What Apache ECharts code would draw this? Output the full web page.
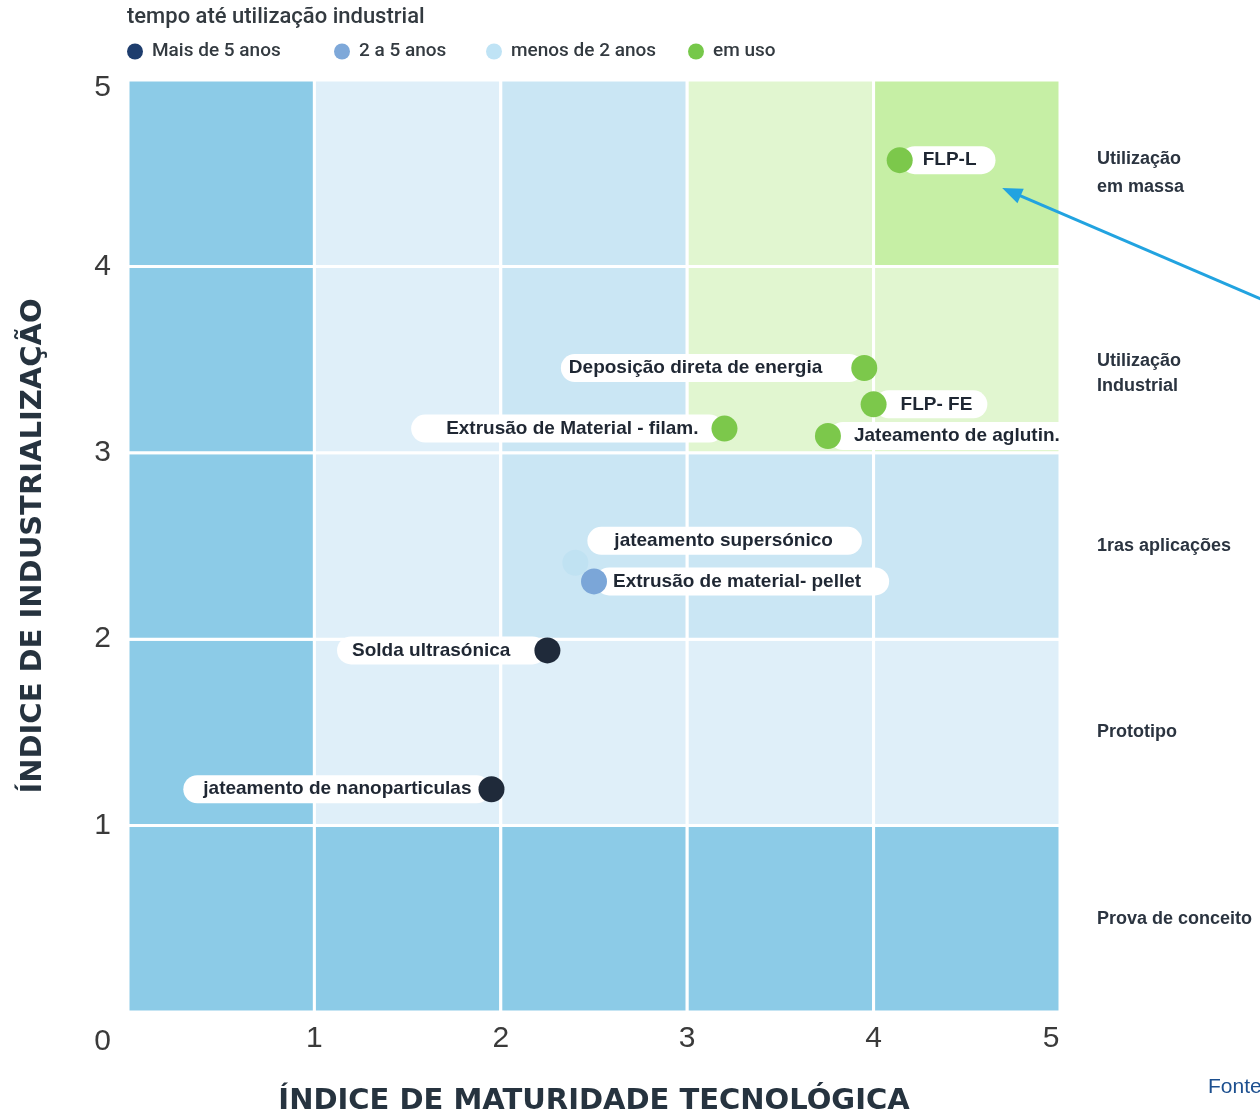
<!DOCTYPE html>
<html><head><meta charset="utf-8">
<script src="https://cdn.jsdelivr.net/npm/echarts@6/dist/echarts.min.js"></script>
<style>html,body{margin:0;padding:0;background:#fff}#c{width:1260px;height:1116px}</style>
</head><body><div id="c"></div>
<script>
// ---------------- DATA ----------------
const legendTitle = 'tempo até utilização industrial';
const groupNames = ['Mais de 5 anos', '2 a 5 anos', 'menos de 2 anos', 'em uso'];
const stageLabels = ['Prova de conceito', 'Prototipo', '1ras aplicações', 'Utilização\nIndustrial', 'Utilização\nem massa'];
const xTicks = [0, 1, 2, 3, 4, 5];
const yTicks = [0, 1, 2, 3, 4, 5];
const xAxisName = 'ÍNDICE DE MATURIDADE TECNOLÓGICA';
const yAxisName = 'ÍNDICE DE INDUSTRIALIZAÇÃO';
const techNames = ['FLP-L', 'Deposição direta de energia', 'FLP- FE', 'Extrusão de Material - filam.', 'Jateamento de aglutin.', 'jateamento supersónico', 'Extrusão de material- pellet', 'Solda ultrasónica', 'jateamento de nanoparticulas'];
const techX = [4.14, 3.95, 4.00, 3.20, 3.755, 2.40, 2.50, 2.25, 1.95];
const techY = [4.57, 3.455, 3.26, 3.13, 3.09, 2.41, 2.31, 1.94, 1.195];
const techGroup = [3, 3, 3, 3, 3, 2, 1, 0, 0];
// zone grid: rows bottom->top (y 0..5), columns left->right (x 0..5)
// 0 dark blue, 1 light blue, 2 medium blue, 3 light green, 4 green
const zoneRows = [
  [0, 0, 0, 0, 0],
  [0, 1, 1, 1, 1],
  [0, 1, 2, 2, 2],
  [0, 1, 2, 3, 3],
  [0, 1, 2, 3, 4]
];
const arrowFrom = [6.23, 3.76];
const arrowTo = [4.69, 4.42];
const sourceNote = 'Fonte';

// ---------------- STYLE ----------------
const zoneColors = ['#8ccbe7', '#dfeff9', '#cae6f4', '#e1f6d0', '#c6efa5'];
const groupColors = ['#1f2a3a', '#7ba6d8', '#c0e2f2', '#7cc84b'];
const legendColors = ['#1e3d6d', '#7ea8d9', '#bfe3f5', '#76c84a'];
const legendLefts = [127, 334, 486, 688];
// side (or [px, py] relative to the marker), padLeft, padRight
const labelLayoutMap = {
  'FLP-L': ['right', 22, 19],
  'Deposição direta de energia': ['left', 8, 41],
  'FLP- FE': ['right', 26, 15],
  'Extrusão de Material - filam.': ['left', 35, 25],
  'Jateamento de aglutin.': ['right', 25, 15],
  'jateamento supersónico': [[13, -21], 27, 29],
  'Extrusão de material- pellet': ['right', 18, 28],
  'Solda ultrasónica': ['left', 15, 36],
  'jateamento de nanoparticulas': ['left', 20, 19]
};
const FONT = '"Liberation Sans", Arial, sans-serif';

const chart = echarts.init(document.getElementById('c'), null, { renderer: 'canvas' });

const cells = [];
zoneRows.forEach((row, r) => row.forEach((k, c) => cells.push([c, r, k])));

const pointSeries = groupNames.map((g, gi) => ({
  name: g,
  type: 'scatter',
  z: 3,
  symbolSize: 26,
  itemStyle: { color: groupColors[gi], opacity: 1 },
  emphasis: { disabled: true },
  data: techNames.map((n, i) => ({ name: n, value: [techX[i], techY[i]], g: techGroup[i] }))
    .filter(d => d.g === gi).map(d => ({ name: d.name, value: d.value }))
}));

const labelSeries = {
  name: 'labels',
  type: 'scatter',
  z: 2,
  symbolSize: 2,
  itemStyle: { color: 'rgba(0,0,0,0)' },
  emphasis: { disabled: true },
  labelLayout: { hideOverlap: false },
  data: techNames.map((n, i) => {
    const L = labelLayoutMap[n];
    const lab = {
      show: true,
      formatter: '{b}',
      position: L[0],
      distance: 0,
      backgroundColor: '#ffffff',
      borderRadius: 14,
      padding: [4, L[2], 4, L[1]],
      color: '#1f2733',
      opacity: 1,
      fontFamily: FONT,
      fontWeight: 'bold',
      fontSize: 19,
      lineHeight: 20
    };
    if (Array.isArray(L[0])) { lab.align = 'left'; lab.verticalAlign = 'middle'; }
    return { name: n, value: [techX[i], techY[i]], label: lab };
  })
};

const zoneSeries = {
  name: 'zones',
  type: 'custom',
  z: 1,
  silent: true,
  xAxisIndex: 0,
  yAxisIndex: 0,
  encode: { x: 0, y: 1 },
  data: cells,
  renderItem: function (params, api) {
    const c = api.value(0), r = api.value(1), k = api.value(2);
    const p0 = api.coord([c, r + 1]);
    const p1 = api.coord([c + 1, r]);
    return {
      type: 'rect',
      shape: { x: p0[0], y: p0[1], width: p1[0] - p0[0], height: p1[1] - p0[1] },
      style: { fill: zoneColors[k], stroke: '#ffffff', lineWidth: 3 }
    };
  }
};

const option = {
  backgroundColor: '#ffffff',
  animation: false,
  title: [
    { text: legendTitle, left: 127, top: 6, padding: 0,
      textStyle: { fontFamily: 'Roboto, sans-serif', fontSize: 22, fontWeight: 500, color: '#333a40' } },
    { text: sourceNote, left: 1208, top: 1077, padding: 0,
      textStyle: { fontFamily: FONT, fontSize: 21, fontWeight: 'normal', color: '#1c4f8f' } }
  ],
  legend: groupNames.map((g, gi) => ({
    left: legendLefts[gi],
    top: 42,
    padding: 0,
    icon: 'circle',
    itemWidth: 24,
    itemHeight: 16,
    selectedMode: false,
    data: [{ name: g, itemStyle: { color: legendColors[gi] } }],
    textStyle: { fontFamily: 'Roboto, sans-serif', fontSize: 19, fontWeight: 500, color: '#333a40', lineHeight: 18 }
  })),
  grid: { left: 128, right: 200, top: 80, bottom: 104, containLabel: false, outerBoundsMode: 'none' },
  xAxis: {
    type: 'value', min: xTicks[0], max: xTicks[xTicks.length - 1], interval: 1,
    name: xAxisName, nameLocation: 'middle', nameGap: 75,
    nameTextStyle: { fontFamily: '"DejaVu Sans", sans-serif', fontWeight: 'bold', fontSize: 29, color: '#26333f' },
    axisLine: { show: false }, axisTick: { show: false }, splitLine: { show: false },
    axisLabel: {
      margin: 12, fontFamily: FONT, fontSize: 30, color: '#3a3a3a',
      formatter: v => (v === xTicks[0] ? '' : (v === xTicks[xTicks.length - 1] ? '{e|' + v + '}' : String(v))),
      rich: { e: { fontFamily: FONT, fontSize: 30, color: '#3a3a3a', padding: [0, 18, 0, 0] } }
    }
  },
  yAxis: [
    {
      type: 'value', min: yTicks[0], max: yTicks[yTicks.length - 1], interval: 1,
      name: yAxisName, nameLocation: 'middle', nameGap: 80,
      nameTextStyle: { fontFamily: '"DejaVu Sans", sans-serif', fontWeight: 'bold', fontSize: 29, color: '#26333f' },
      axisLine: { show: false }, axisTick: { show: false }, splitLine: { show: false },
      axisLabel: {
        margin: 17, fontFamily: FONT, fontSize: 30, color: '#3a3a3a',
        formatter: v => (v === yTicks[0] ? '{z|' + v + '}' : (v === yTicks[yTicks.length - 1] ? '{t|' + v + '}' : String(v))),
        rich: {
          z: { fontFamily: FONT, fontSize: 30, color: '#3a3a3a', padding: [60, 0, 0, 0] },
          t: { fontFamily: FONT, fontSize: 30, color: '#3a3a3a', padding: [16, 0, 0, 0] }
        }
      }
    },
    {
      type: 'category', position: 'right', data: stageLabels, boundaryGap: true,
      axisLine: { show: false }, axisTick: { show: false }, splitLine: { show: false },
      axisLabel: {
        margin: 37, align: 'left', fontFamily: FONT, fontSize: 18, fontWeight: 'bold',
        lineHeight: 28, color: '#2b3440',
        formatter: v => (v.indexOf('Industrial') >= 0 ? '{d|' + v.split('\n').join('}\n{d|') + '}' : v),
        rich: {
          d: { fontFamily: FONT, fontSize: 18, fontWeight: 'bold', color: '#2b3440', lineHeight: 25, padding: [27, 0, 0, 0] }
        }
      }
    }
  ],
  series: [zoneSeries, labelSeries].concat(pointSeries)
};

chart.setOption(option);

// annotation arrow (data units -> pixels through the axes)
const pFrom = chart.convertToPixel({ xAxisIndex: 0, yAxisIndex: 0 }, arrowFrom);
const pTo = chart.convertToPixel({ xAxisIndex: 0, yAxisIndex: 0 }, arrowTo);
const dx = pTo[0] - pFrom[0], dy = pTo[1] - pFrom[1];
const len = Math.sqrt(dx * dx + dy * dy);
const ux = dx / len, uy = dy / len;
const headL = 20, headW = 8;
const bx = pTo[0] - ux * headL, by = pTo[1] - uy * headL;
chart.setOption({
  graphic: [
    { type: 'line', z: 10, silent: true,
      shape: { x1: pFrom[0], y1: pFrom[1], x2: bx + ux * 2, y2: by + uy * 2 },
      style: { stroke: '#22a3e0', lineWidth: 3 } },
    { type: 'polygon', z: 10, silent: true,
      shape: { points: [[pTo[0], pTo[1]], [bx - uy * headW, by + ux * headW], [bx + uy * headW, by - ux * headW]] },
      style: { fill: '#22a3e0' } }
  ]
});
</script>
</body></html>
